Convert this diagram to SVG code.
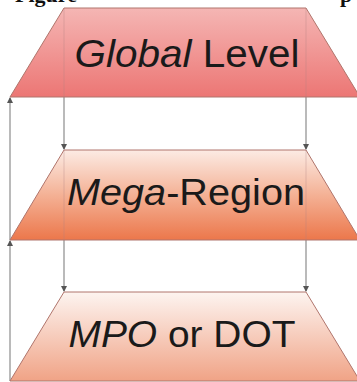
<svg xmlns="http://www.w3.org/2000/svg" width="357" height="382" viewBox="0 0 357 382">
<defs>
<linearGradient id="g1" x1="0" y1="0" x2="0" y2="1">
<stop offset="0" stop-color="#f5b6b4"/>
<stop offset="1" stop-color="#ec7674"/>
</linearGradient>
<linearGradient id="g2" x1="0" y1="0" x2="0" y2="1">
<stop offset="0" stop-color="#fcebe4"/>
<stop offset="0.5" stop-color="#f4b195"/>
<stop offset="1" stop-color="#ec774b"/>
</linearGradient>
<linearGradient id="g3" x1="0" y1="0" x2="0" y2="1">
<stop offset="0" stop-color="#fdf4f0"/>
<stop offset="1" stop-color="#f0a386"/>
</linearGradient>
<marker id="ah" viewBox="0 0 6 6" refX="5" refY="3" markerWidth="5" markerHeight="5" orient="auto">
<path d="M0,0 L6,3 L0,6 z" fill="#555"/>
</marker>
</defs>
<style>
.ln{stroke:#8c8c8c;stroke-width:1.2;fill:none}
.faint{stroke:#b08080;stroke-width:1;opacity:0.35;fill:none}
.trap{stroke:#b0756c;stroke-width:1}
.lbl{font-family:"Liberation Sans",Arial,sans-serif;fill:#1a1a1a;text-anchor:middle}
.cap{font-family:"Liberation Serif","Times New Roman",serif;font-weight:bold;font-size:22px;fill:#111}
</style>
<text class="cap" x="15" y="2">Figure</text>
<text class="cap" x="340" y="2">p</text>
<g id="connectors">
<path class="ln" d="M10,381 L10,241" marker-end="url(#ah)"/>
<path class="ln" d="M10,240 L10,98" marker-end="url(#ah)"/>
<path class="ln" d="M64,97 L64,149" marker-end="url(#ah)"/>
<path class="ln" d="M306,97 L306,149" marker-end="url(#ah)"/>
<path class="ln" d="M64,240 L64,291" marker-end="url(#ah)"/>
<path class="ln" d="M306,240 L306,291" marker-end="url(#ah)"/>
</g>
<g id="global-level">
<polygon class="trap" points="64,8 306,8 360,97 10,97" fill="url(#g1)"/>
<path class="faint" d="M64,8 L64,97 M306,8 L306,97"/>
<text class="lbl" x="187" y="67" font-size="39" textLength="225" lengthAdjust="spacingAndGlyphs"><tspan font-style="italic">Global</tspan> Level</text>
</g>
<g id="mega-region">
<polygon class="trap" points="64,150 306,150 360,240 10,240" fill="url(#g2)"/>
<path class="faint" d="M64,150 L64,240 M306,150 L306,240"/>
<text class="lbl" x="186" y="205" font-size="36" textLength="238" lengthAdjust="spacingAndGlyphs"><tspan font-style="italic">Mega</tspan>-Region</text>
</g>
<g id="mpo-dot">
<polygon class="trap" points="64,292 306,292 360,381 10,381" fill="url(#g3)"/>
<text class="lbl" x="182" y="347" font-size="36" textLength="227" lengthAdjust="spacingAndGlyphs"><tspan font-style="italic">MPO</tspan> or DOT</text>
</g>
</svg>
